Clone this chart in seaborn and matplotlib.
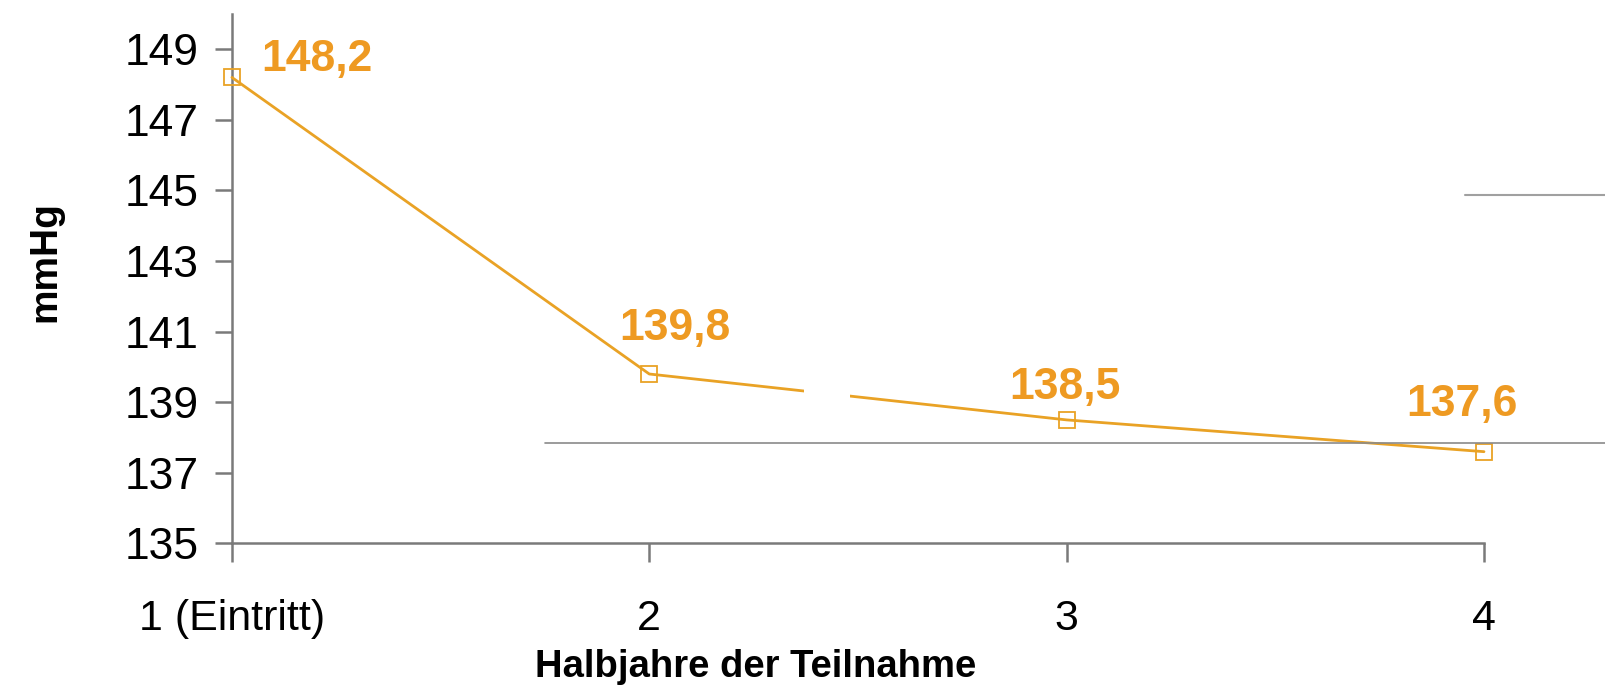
import matplotlib
matplotlib.use("Agg")
import matplotlib.pyplot as plt
from matplotlib.lines import Line2D
from matplotlib.patches import Rectangle
import seaborn as sns
import pandas as pd

# Mean systolic blood pressure per half-year of participation
positions = [1, 2, 3, 4]
tick_labels = ["1 (Eintritt)", "2", "3", "4"]
systolic = [148.2, 139.8, 138.5, 137.6]
value_labels = ["148,2", "139,8", "138,5", "137,6"]

sns.set_theme(style="white")
plt.rcParams["font.family"] = ["Liberation Sans", "DejaVu Sans"]
plt.rcParams["text.color"] = "black"
plt.rcParams["axes.labelcolor"] = "black"
plt.rcParams["xtick.color"] = "black"
plt.rcParams["ytick.color"] = "black"

orange_text = "#EE9A22"
orange_line = "#E9A225"
axis_gray = "#7A7A7A"

df = pd.DataFrame({"halbjahr": positions, "mmhg": systolic})

fig = plt.figure(figsize=(16.05, 6.94), dpi=100)
ax = fig.add_axes([0.1445, 0.2169, 0.9246 - 0.1445, 0.98 - 0.2169])

sns.lineplot(data=df, x="halbjahr", y="mmhg", ax=ax, color=orange_line,
             linewidth=2, marker="s", markersize=11,
             markerfacecolor="none", markeredgecolor=orange_line,
             markeredgewidth=1.3, clip_on=False, zorder=4)

ax.set_xlim(1, 4)
ax.set_ylim(135, 150)
ax.set_yticks([135, 137, 139, 141, 143, 145, 147, 149])
ax.set_xticks(positions)
ax.set_xticklabels(tick_labels)

for side in ("top", "right"):
    ax.spines[side].set_visible(False)
for side in ("left", "bottom"):
    ax.spines[side].set_color(axis_gray)
    ax.spines[side].set_linewidth(1.8)

ax.tick_params(axis="y", direction="out", length=12, width=1.8,
               color=axis_gray, labelcolor="black", labelsize=32, pad=12,
               left=True)
ax.tick_params(axis="x", direction="out", length=14, width=1.8,
               color=axis_gray, labelcolor="black", labelsize=31, pad=26,
               bottom=True)

ax.set_xlabel("Halbjahre der Teilnahme", fontsize=27.5, fontweight="bold")
ax.xaxis.set_label_coords(0.418, -0.2)
ax.set_ylabel("mmHg", fontsize=28, fontweight="bold")
ax.yaxis.set_label_coords(-0.135, 0.533)

# Value annotations next to each point
offsets = [(85, 18), (26, 46), (-2, 32), (-22, 47)]
for x, y, lab, (dx, dy) in zip(positions, systolic, value_labels, offsets):
    ax.annotate(lab, (x, y), xytext=(dx, dy), textcoords="offset pixels",
                ha="center", va="center", fontsize=32, fontweight="bold",
                color=orange_text)

# Small white patch interrupting the line between points 2 and 3
ax.add_patch(Rectangle((2.37, 138.6), 0.11, 1.2, facecolor="white",
                       edgecolor="none", zorder=5))

# Thin gray rules in figure coordinates
fig.add_artist(Line2D([0.3396, 1.0], [0.3617, 0.3617], color="#8A8A8A",
                      linewidth=1.2, transform=fig.transFigure))
fig.add_artist(Line2D([0.913, 1.0], [0.7197, 0.7197], color="#A0A0A0",
                      linewidth=1.5, transform=fig.transFigure))

fig.savefig("out.png", dpi=100)
